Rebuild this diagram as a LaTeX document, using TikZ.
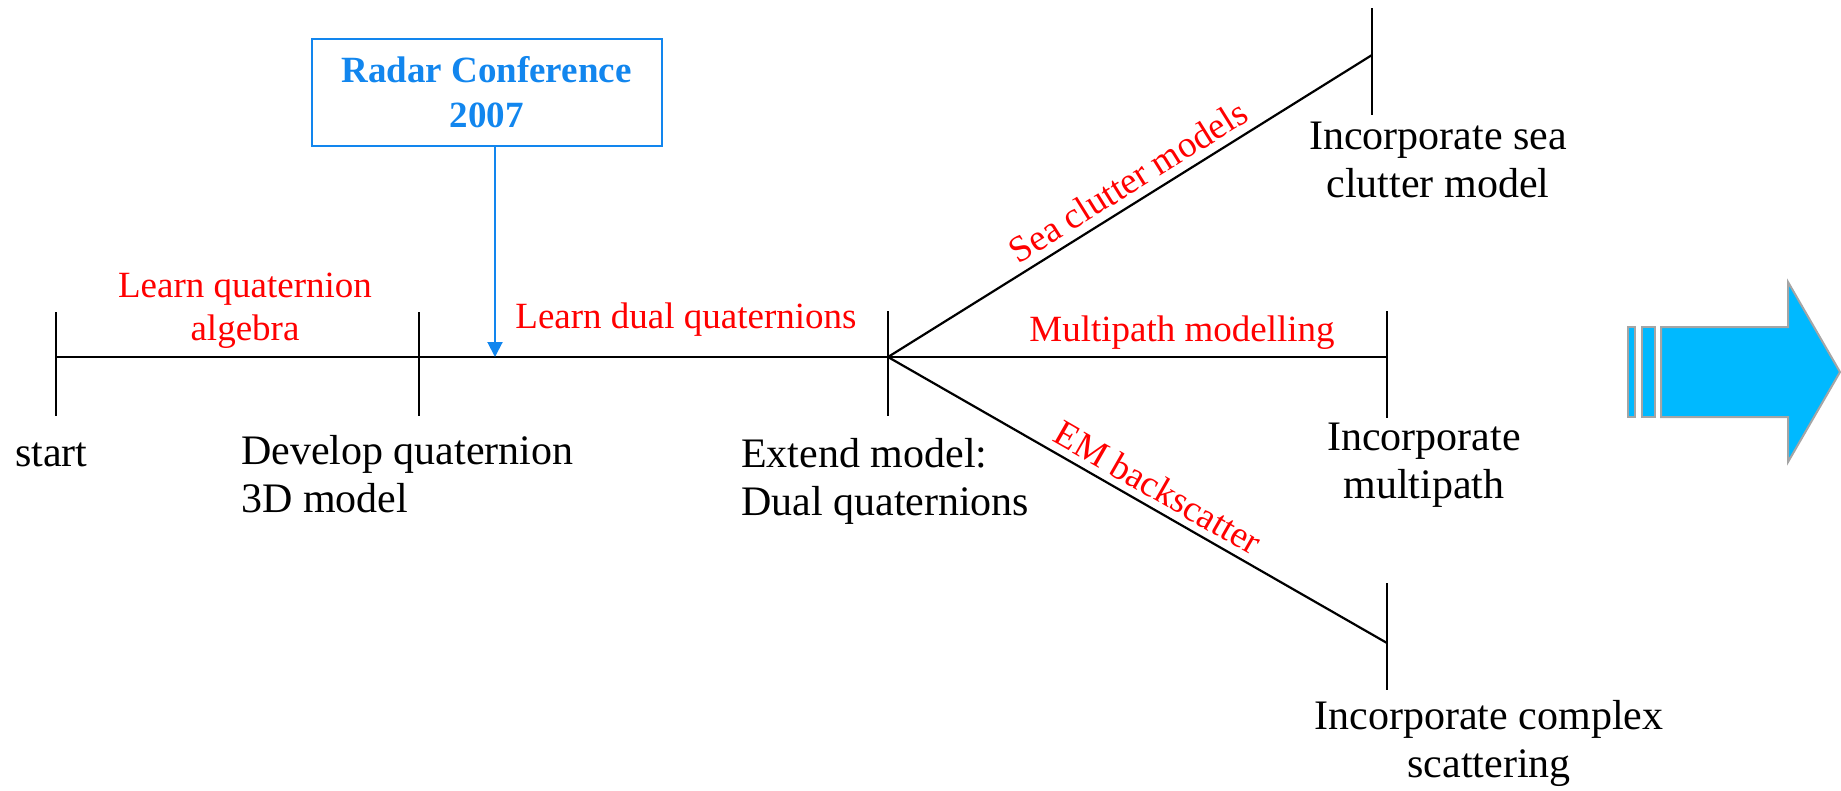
\documentclass[tikz,border=0pt]{standalone}
\usepackage{fontspec}
\setmainfont{Liberation Serif}
\usetikzlibrary{arrows.meta}
\definecolor{tred}{RGB}{255,0,0}
\definecolor{tblue}{RGB}{18,134,238}
\definecolor{afill}{RGB}{0,185,255}
\definecolor{aedge}{RGB}{165,165,165}
\begin{document}
\begin{tikzpicture}[x=1pt,y=-1pt,
  bl/.style={font=\fontsize{42}{48}\selectfont, inner sep=0pt},
  rd/.style={font=\fontsize{37}{43}\selectfont, text=tred, inner sep=0pt},
  ln/.style={line width=2.2pt, black},
  bigarrow/.style={draw=aedge, fill=afill, line width=2pt},
]
\useasboundingbox (0,0) rectangle (1841,790);

% timeline points
\coordinate (s) at (56,357);
\coordinate (t2) at (419,357);
\coordinate (hub) at (888,357);
\coordinate (ue) at (1372,55);
\coordinate (me) at (1387,357);
\coordinate (le) at (1387,643);
\coordinate (bt) at (495,357);

% main line and branches
\draw[ln] (s) -- (t2) -- (hub);
\draw[ln] (hub) -- (ue) node[rd, pos=0.52, sloped, above=8pt] (scm) {Sea clutter models};
\draw[ln] (hub) -- (me);
\draw[ln] (hub) -- (le) node[rd, pos=0.52, sloped, above=7pt] (emb) {EM backscatter};

% ticks
\draw[ln] (s) ++(0,-45) -- ++(0,104);
\draw[ln] (t2) ++(0,-45) -- ++(0,104);
\draw[ln] (hub) ++(0,-46) -- ++(0,105);
\draw[ln] (ue) ++(0,-47) -- ++(0,107);
\draw[ln] (me) ++(0,-46) -- ++(0,107);
\draw[ln] (le) ++(0,-60) -- ++(0,107);

% black labels (anchor = baseline of the last line)
\node[bl, anchor=base west] (start) at (15,466) {start};
\node[bl, anchor=base west, align=left] (dev) at (241,512) {Develop quaternion\\3D model};
\node[bl, anchor=base west, align=left] (ext) at (741,515) {Extend model:\\Dual quaternions};
\node[bl, anchor=base, align=center] (sea) at (1438,197) {Incorporate sea\\clutter model};
\node[bl, anchor=base, align=center] (mp) at (1424,498) {Incorporate\\multipath};
\node[bl, anchor=base, align=center] (cx) at (1489,777) {Incorporate complex\\scattering};

% red labels
\node[rd, anchor=base, align=center] (lq) at (245,340) {Learn quaternion\\algebra};
\node[rd, anchor=base] (ld) at (686,328) {Learn dual quaternions};
\node[rd, anchor=base] (mm) at (1182,341) {Multipath modelling};

% conference box
\node[draw=tblue, line width=2pt, minimum width=350pt, minimum height=107pt,
      text=tblue, font=\bfseries\fontsize{37}{45}\selectfont, align=center,
      inner sep=0pt] (conf) at (486.5,92.5) {Radar Conference\\2007};
\draw[tblue, line width=2pt, -{Triangle[width=15pt,length=15pt]}] (bt |- conf.south) -- (bt);

% big arrow
\draw[bigarrow] (1628,327) rectangle (1635,417);
\draw[bigarrow] (1642,327) rectangle (1655,417);
\draw[bigarrow] (1661,327) -- (1788,327) -- (1788,282) -- (1840,372) -- (1788,462) -- (1788,417) -- (1661,417) -- cycle;
\end{tikzpicture}
\end{document}
